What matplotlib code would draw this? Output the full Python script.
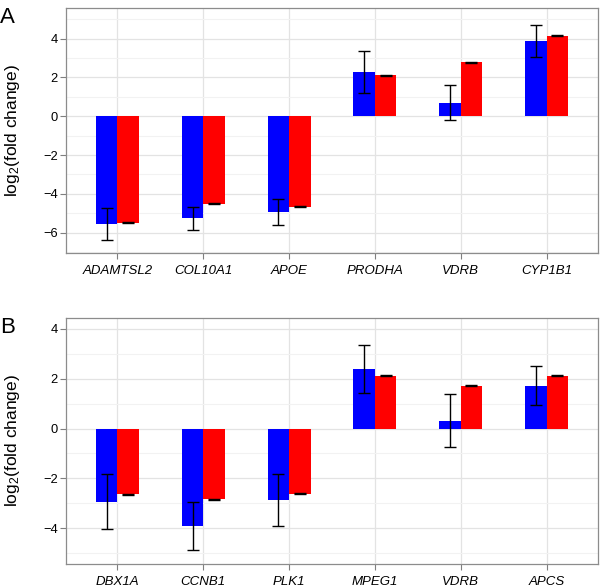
import matplotlib.pyplot as plt
import numpy as np

plt.rcParams['font.family'] = ['Liberation Sans', 'DejaVu Sans']
plt.rcParams['mathtext.fontset'] = 'custom'
plt.rcParams['mathtext.rm'] = 'Liberation Sans'
plt.rcParams['mathtext.it'] = 'Liberation Sans:italic'

# panel A
genes_a = ['ADAMTSL2', 'COL10A1', 'APOE', 'PRODHA', 'VDRB', 'CYP1B1']
blue_a = [-5.57, -5.26, -4.92, 2.28, 0.70, 3.88]
blue_a_err = [0.82, 0.60, 0.67, 1.10, 0.90, 0.81]
red_a = [-5.48, -4.50, -4.66, 2.11, 2.78, 4.15]
red_a_err = [0.02, 0.02, 0.02, 0.02, 0.02, 0.02]

# panel B
genes_b = ['DBX1A', 'CCNB1', 'PLK1', 'MPEG1', 'VDRB', 'APCS']
blue_b = [-2.94, -3.92, -2.87, 2.39, 0.32, 1.72]
blue_b_err = [1.11, 0.96, 1.04, 0.95, 1.08, 0.79]
red_b = [-2.64, -2.83, -2.62, 2.12, 1.72, 2.13]
red_b_err = [0.02, 0.02, 0.02, 0.02, 0.02, 0.02]

fig = plt.figure(figsize=(6, 5.88), dpi=100)
W, H = 600, 588


def panel(rect, genes, blue, blue_err, red, red_err, ylim, yticks, minors, label):
    l, t, r, b = rect
    ax = fig.add_axes([l / W, 1 - b / H, (r - l) / W, (b - t) / H])
    x = np.arange(len(genes))
    w = 0.25
    ax.bar(x - w / 2, blue, w, color='#0000ff', zorder=2)
    ax.bar(x + w / 2, red, w, color='#ff0000', zorder=2)
    ax.errorbar(x - w / 2, blue, yerr=blue_err, fmt='none', ecolor='black',
                elinewidth=1, capsize=4.2, capthick=1, zorder=3)
    ax.errorbar(x + w / 2, red, yerr=red_err, fmt='none', ecolor='black',
                elinewidth=1, capsize=4.2, capthick=1, zorder=3)
    ax.set_xlim(-0.6, len(genes) - 0.4)
    ax.set_ylim(*ylim)
    ax.set_xticks(x)
    ax.set_xticklabels(genes, fontstyle='italic', fontsize=9.5)
    ax.set_yticks(yticks)
    ax.set_yticklabels([str(v).replace('-', '\u2212') for v in yticks], fontsize=9.3)
    ax.set_yticks(minors, minor=True)
    ax.tick_params(axis='y', which='minor', length=0)
    ax.tick_params(which='major', length=4, color='#7f7f7f', width=0.8)
    ax.tick_params(axis='x', pad=4.5)
    ax.tick_params(axis='y', pad=2)
    ax.grid(True, which='major', color='#e3e3e3', linewidth=0.9, zorder=0)
    ax.grid(True, which='minor', axis='y', color='#f2f2f2', linewidth=0.8, zorder=0)
    ax.set_axisbelow(True)
    for s in ax.spines.values():
        s.set_color('#8c8c8c')
        s.set_linewidth(0.9)
    ax.set_ylabel(r'log$_2$(fold change)', fontsize=12.5)
    ax.yaxis.set_label_coords(-44 / (r - l), 0.5)
    fig.text(0.0, 1 - (t - 1) / H, label, fontsize=16, va='top', ha='left')
    return ax


panel((66, 8, 598, 253), genes_a, blue_a, blue_a_err, red_a, red_a_err,
      (-7.05, 5.58), [-6, -4, -2, 0, 2, 4], [-7, -5, -3, -1, 1, 3, 5], 'A')
panel((66, 318, 598, 564), genes_b, blue_b, blue_b_err, red_b, red_b_err,
      (-5.44, 4.44), [-4, -2, 0, 2, 4], [-5, -3, -1, 1, 3], 'B')

fig.savefig('out.png', dpi=100)
